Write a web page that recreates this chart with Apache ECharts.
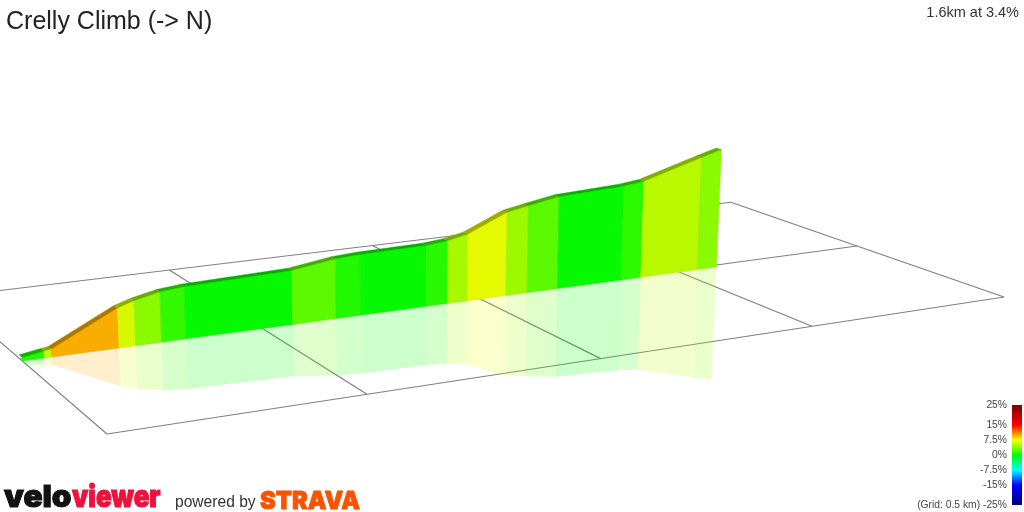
<!DOCTYPE html>
<html>
<head>
<meta charset="utf-8">
<title>Crelly Climb</title>
<script src="https://cdn.jsdelivr.net/npm/echarts@6/dist/echarts.min.js"></script>
<style>
	html, body { margin: 0; padding: 0; background: #fff; }
	#profile { width: 1024px; height: 512px; }
</style>
</head>
<body>
<div id="profile"></div>
<script>
/*Route profile*/

var titleText = 'Crelly Climb (-> N)';
var summaryText = '1.6km at 3.4%';

// distance along the climb (km) and height above the grid (m) at each colour change
var routeKm = [0, 0.0438, 0.0586, 0.1955, 0.2301, 0.2843, 0.3356, 0.5669, 0.6639, 0.7198, 0.8711, 0.9213, 0.9689, 1.0623, 1.1137, 1.1885, 1.3494, 1.40, 1.5483, 1.599];
var routeElev = [1.37, 2.75, 3.14, 15.93, 17.99, 20.21, 21.12, 22.3, 24.89, 25.44, 25.93, 26.78, 28.61, 36.04, 37.82, 40.26, 41.74, 42.82, 50.75, 53.29];
// gradient (%) of each section
var sectionGrade = [1.0, 5.8, 9.8, 6.5, 4.2, 1.5, 0.2, 2.8, 1.0, 0.2, 1.2, 5.0, 6.9, 4.7, 2.7, 0.2, 1.3, 5.6, 4.2];

// ground grid
var gridStepKm = 0.5;
var gridColumnsKm = [0, 0.5, 1, 1.5, 2];
var gridRows = [0, 1, 2.015];

// gradient colour scale
var scaleValues = [25, 15, 7.5, 0, -7.5, -15, -25];
var scaleColors = ['#7f0000', '#ff0000', '#ffff00', '#00ff00', '#00ffff', '#0000ff', '#00007f'];

//______Camera, ground corners as seen in the picture
var quad = [[107, 434], [1004, 297], [857, 246], [20, 359]];
var roadFront = 0.97;
var roadBack = 1.01;
var metrePx = 2.56;
var riseCentreX = 415;
var riseLean = 7000;
var mirrorScale = 0.96;

var H = (function () {
	var p = quad;
	var dx1 = p[1][0] - p[2][0], dx2 = p[3][0] - p[2][0], sx = p[0][0] - p[1][0] + p[2][0] - p[3][0];
	var dy1 = p[1][1] - p[2][1], dy2 = p[3][1] - p[2][1], sy = p[0][1] - p[1][1] + p[2][1] - p[3][1];
	var det = dx1 * dy2 - dx2 * dy1;
	var g = (sx * dy2 - dx2 * sy) / det;
	var h = (dx1 * sy - sx * dy1) / det;
	return {
		a: p[1][0] - p[0][0] + g * p[1][0], b: p[3][0] - p[0][0] + h * p[3][0], c: p[0][0],
		d: p[1][1] - p[0][1] + g * p[1][1], e: p[3][1] - p[0][1] + h * p[3][1], f: p[0][1],
		g: g, h: h
	};
})();

function depth(km, row) {
	return H.g * km / 2 + H.h * row + 1;
}

// km along, grid row across, metres up -> picture position
function project(km, row, elev) {
	var s = km / 2;
	var w = depth(km, row);
	var x = (H.a * s + H.b * row + H.c) / w;
	var y = (H.d * s + H.e * row + H.f) / w;
	var up = elev * metrePx * depth(0, roadFront) / w;
	return [x + (x - riseCentreX) * up / riseLean, y - up];
}

function gradeColor(grade) {
	for (var i = 0; i < scaleValues.length - 1; i++) {
		if (grade <= scaleValues[i] && grade >= scaleValues[i + 1]) {
			var t = (scaleValues[i] - grade) / (scaleValues[i] - scaleValues[i + 1]);
			return echarts.color.lerp(t, [scaleColors[i], scaleColors[i + 1]]);
		}
	}
	return scaleColors[3];
}

function shade(color, factor) {
	var c = echarts.color.parse(color);
	return 'rgb(' + Math.round(c[0] * factor) + ',' + Math.round(c[1] * factor) + ',' + Math.round(c[2] * factor) + ')';
}

var sections = sectionGrade.map(function (grade, i) {
	return [routeKm[i], routeKm[i + 1], routeElev[i], routeElev[i + 1], grade];
});

var gridLines = [];
gridRows.forEach(function (row) {
	gridLines.push([gridColumnsKm[0], row, gridColumnsKm[gridColumnsKm.length - 1], row]);
});
gridColumnsKm.forEach(function (km) {
	gridLines.push([km, gridRows[0], km, gridRows[gridRows.length - 1]]);
});

function polygon(api, pts, style) {
	return {
		type: 'polygon',
		shape: { points: pts.map(function (p) { return api.coord(p); }) },
		style: style
	};
}

var chart = echarts.init(document.getElementById('profile'), null, { renderer: 'canvas' });

var option = {
	animation: false,
	backgroundColor: '#fff',
	title: [
		{
			text: titleText,
			left: 6,
			top: 10,
			padding: 0,
			textStyle: { fontFamily: 'Liberation Sans', fontSize: 25, fontWeight: 'normal', color: '#222' }
		},
		{
			text: summaryText,
			right: 5,
			top: 5,
			padding: 0,
			textStyle: { fontFamily: 'Liberation Sans', fontSize: 14.5, fontWeight: 'normal', color: '#333' }
		}
	],
	grid: [
		{ left: 0, top: 0, width: 1024, height: 512 },
		{ left: 1012, top: 405, width: 10, height: 100 }
	],
	xAxis: [
		{ type: 'value', gridIndex: 0, min: 0, max: 1024, show: false },
		{ type: 'value', gridIndex: 1, min: 0, max: 1, show: false }
	],
	yAxis: [
		{ type: 'value', gridIndex: 0, min: 0, max: 512, inverse: true, show: false },
		{
			type: 'value',
			gridIndex: 1,
			min: -25,
			max: 25,
			axisLine: { show: false },
			axisTick: { show: false },
			splitLine: { show: false },
			axisLabel: {
				customValues: scaleValues,
				margin: 5,
				fontFamily: 'Liberation Sans',
				fontSize: 10.3,
				color: '#444',
				formatter: function (value) {
					return value === -25 ? '(Grid: ' + gridStepKm + ' km) ' + value + '%' : value + '%';
				}
			}
		}
	],
	series: [
		// ______Ground grid
		{
			type: 'custom',
			silent: true,
			coordinateSystem: 'cartesian2d',
			data: gridLines,
			renderItem: function (params, api) {
				var a = api.coord(project(api.value(0), api.value(1), 0));
				var b = api.coord(project(api.value(2), api.value(3), 0));
				return {
					type: 'line',
					shape: { x1: a[0], y1: a[1], x2: b[0], y2: b[1] },
					style: { stroke: '#808080', lineWidth: 1.2, fill: null }
				};
			}
		},
		// ______Reflection
		{
			type: 'custom',
			silent: true,
			coordinateSystem: 'cartesian2d',
			data: sections,
			renderItem: function (params, api) {
				var k0 = api.value(0), k1 = api.value(1);
				var e0 = api.value(2) * mirrorScale, e1 = api.value(3) * mirrorScale;
				return polygon(api, [
					project(k0, roadFront, 0), project(k1, roadFront, 0),
					project(k1, roadFront, -e1), project(k0, roadFront, -e0)
				], { fill: gradeColor(api.value(4)), opacity: 0.2 });
			}
		},
		// ______Wall
		{
			type: 'custom',
			silent: true,
			coordinateSystem: 'cartesian2d',
			data: sections,
			renderItem: function (params, api) {
				var k0 = api.value(0), k1 = api.value(1);
				var e0 = api.value(2), e1 = api.value(3);
				var color = shade(gradeColor(api.value(4)), 0.975);
				return polygon(api, [
					project(k0, roadFront, 0), project(k1, roadFront, 0),
					project(k1, roadFront, e1), project(k0, roadFront, e0)
				], { fill: color, stroke: shade(color, 0.94), lineWidth: 0.5 });
			}
		},
		// ______Road surface on top of the wall
		{
			type: 'custom',
			silent: true,
			coordinateSystem: 'cartesian2d',
			data: sections,
			renderItem: function (params, api) {
				var k0 = api.value(0), k1 = api.value(1);
				var e0 = api.value(2), e1 = api.value(3);
				var color = shade(gradeColor(api.value(4)), 0.68);
				return polygon(api, [
					project(k0, roadFront, e0), project(k1, roadFront, e1),
					project(k1, roadBack, e1), project(k0, roadBack, e0)
				], { fill: color, stroke: color, lineWidth: 0.4 });
			}
		},
		// ______Colour scale
		{
			type: 'custom',
			silent: true,
			coordinateSystem: 'cartesian2d',
			xAxisIndex: 1,
			yAxisIndex: 1,
			data: [[0, scaleValues[0], 1, scaleValues[scaleValues.length - 1]]],
			renderItem: function (params, api) {
				var a = api.coord([api.value(0), api.value(1)]);
				var b = api.coord([api.value(2), api.value(3)]);
				var stops = scaleValues.map(function (v, i) {
					return { offset: (scaleValues[0] - v) / (scaleValues[0] - scaleValues[scaleValues.length - 1]), color: scaleColors[i] };
				});
				return {
					type: 'rect',
					shape: { x: a[0], y: a[1], width: b[0] - a[0], height: b[1] - a[1] },
					style: { fill: new echarts.graphic.LinearGradient(0, 0, 0, 1, stops) }
				};
			}
		}
	],
	graphic: [
		{
			type: 'text', x: 4, y: 498, scaleX: 1.05, silent: true,
			style: { text: 'velo', verticalAlign: 'middle', fontFamily: 'Inter', fontWeight: 900, fontSize: 30, fill: '#111', stroke: '#111', lineWidth: 1 }
		},
		{
			type: 'text', x: 72, y: 498, scaleX: 0.86, silent: true,
			style: { text: 'viewer', verticalAlign: 'middle', fontFamily: 'Inter', fontWeight: 900, fontSize: 30, fill: '#f0103c', stroke: '#f0103c', lineWidth: 1 }
		},
		{
			type: 'text', x: 175, y: 503, silent: true,
			style: { text: 'powered by', verticalAlign: 'middle', fontFamily: 'Liberation Sans', fontSize: 15.6, fill: '#333' }
		},
		{
			type: 'text', x: 260, y: 501, scaleX: 0.945, silent: true,
			style: { text: 'STRAVA', verticalAlign: 'middle', fontFamily: 'Inter', fontWeight: 900, fontSize: 25, fill: '#fc5200', stroke: '#fc5200', lineWidth: 0.8 }
		}
	]
};

chart.setOption(option);

/*Route profile*/
</script>
</body>
</html>
